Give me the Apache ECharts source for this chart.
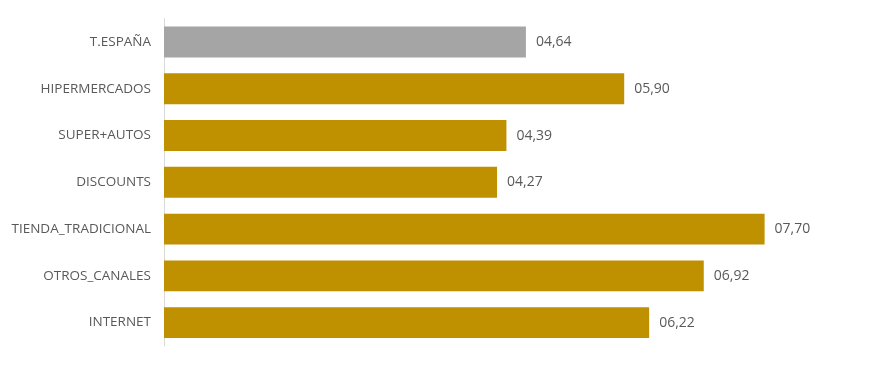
<!DOCTYPE html>
<html>
<head>
<meta charset="utf-8">
<script src="https://cdn.jsdelivr.net/npm/echarts@6/dist/echarts.min.js"></script>
<style>
html,body{margin:0;padding:0;background:#fff;}
#chart{width:884px;height:365px;}
</style>
</head>
<body>
<div id="chart"></div>
<script>
const categories = ["T.ESPAÑA", "HIPERMERCADOS", "SUPER+AUTOS", "DISCOUNTS", "TIENDA_TRADICIONAL", "OTROS_CANALES", "INTERNET"];
const values = [4.64, 5.90, 4.39, 4.27, 7.70, 6.92, 6.22];
const highlightCategory = "T.ESPAÑA";

const chart = echarts.init(document.getElementById('chart'), null, {renderer: 'canvas'});
const fmt = v => {
  const s = v.toFixed(2).replace('.', ',');
  return (v < 10 ? '0' : '') + s;
};
chart.setOption({
  animation: false,
  grid: {left: 164, right: 18, top: 18.6, bottom: 19, containLabel: false},
  xAxis: {
    type: 'value', min: 0, max: 9,
    show: false
  },
  yAxis: {
    type: 'category',
    data: categories,
    inverse: true,
    axisLine: {show: true, lineStyle: {color: '#D9D9D9', width: 1}},
    axisTick: {show: false},
    axisLabel: {color: '#595959', fontFamily: 'Open Sans', fontSize: 13.5, margin: 13}
  },
  series: [{
    type: 'bar',
    barWidth: '66%',
    data: values.map((v, i) => ({
      value: v,
      itemStyle: {color: categories[i] === highlightCategory ? '#A5A5A5' : '#BF9000'}
    })),
    label: {
      show: true, position: 'right', distance: 10,
      color: '#595959', fontFamily: 'Open Sans', fontSize: 14,
      formatter: p => fmt(p.value)
    }
  }]
});
</script>
</body>
</html>
